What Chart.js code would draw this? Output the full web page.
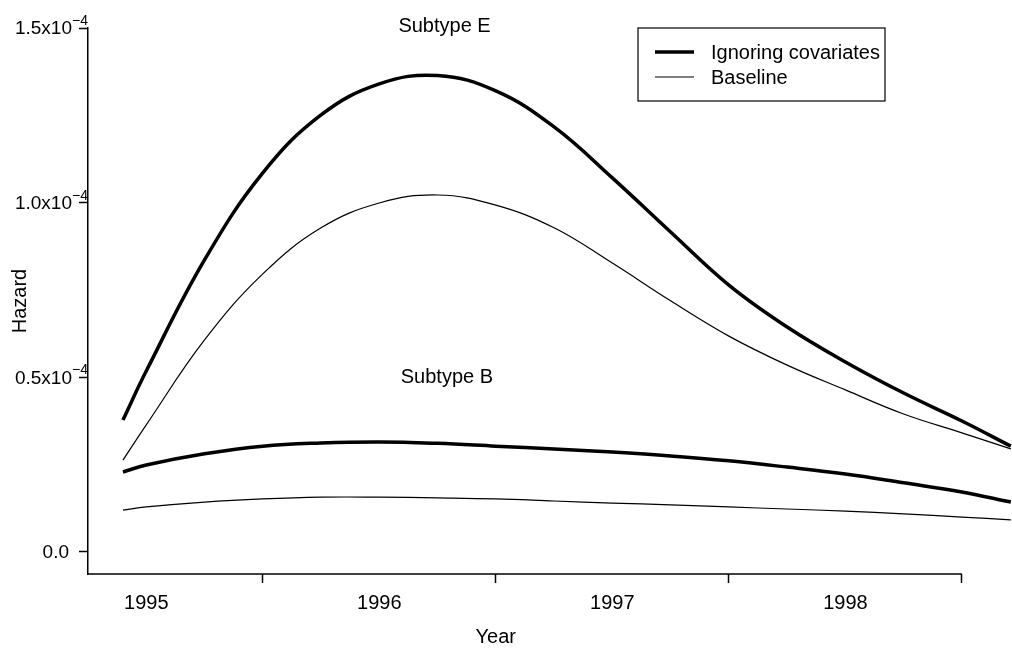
<!DOCTYPE html>
<html>
<head>
<meta charset="utf-8">
<script src="https://cdn.jsdelivr.net/npm/chart.js@4.4.1/dist/chart.umd.min.js"></script>
<style>
  html, body { margin: 0; padding: 0; background: #fff; }
  #wrap { width: 1012px; height: 649px; }
</style>
</head>
<body>
<div id="wrap"><canvas id="chart" width="1012" height="649"></canvas></div>
<script>
// hazard values in units of 1e-4
var years = [1995.40, 1995.5, 1995.75, 1996.0, 1996.25, 1996.5, 1996.75, 1997.0, 1997.25,
             1997.5, 1997.75, 1998.0, 1998.25, 1998.5, 1998.75, 1999.0, 1999.21];
var eIgnoring = [0.378, 0.518, 0.836, 1.085, 1.251, 1.340, 1.364, 1.320, 1.217,
                 1.071, 0.916, 0.764, 0.644, 0.544, 0.455, 0.375, 0.303];
var eBaseline = [0.263, 0.364, 0.607, 0.796, 0.928, 0.999, 1.022, 0.993, 0.928,
                 0.827, 0.719, 0.618, 0.535, 0.464, 0.395, 0.341, 0.295];
var bIgnoring = [0.229, 0.249, 0.281, 0.303, 0.312, 0.315, 0.311, 0.303, 0.295,
                 0.286, 0.275, 0.261, 0.243, 0.223, 0.198, 0.172, 0.143];
var bBaseline = [0.120, 0.129, 0.143, 0.152, 0.157, 0.157, 0.155, 0.152, 0.146,
                 0.140, 0.135, 0.129, 0.123, 0.117, 0.109, 0.100, 0.092];

var yearLabels = ['1995', '1996', '1997', '1998'];
var yTicks = [0, 0.5, 1.0, 1.5];
var yTickText = ['0.0', '0.5x10', '1.0x10', '1.5x10'];
var yTickExp = ['', '\u22124', '\u22124', '\u22124'];
var legendLabels = ['Ignoring covariates', 'Baseline'];
var groupLabels = ['Subtype E', 'Subtype B'];
var groupLabelX = [1996.78, 1996.79];
var groupLabelY = [1.505, 0.50];

var FONT = '"Liberation Sans", Arial, Helvetica, sans-serif';

function series(vals) {
  return years.map(function(x, i) { return { x: x, y: vals[i] }; });
}

function line(label, vals, width) {
  return {
    label: label,
    data: series(vals),
    borderColor: '#000',
    borderWidth: width,
    pointRadius: 0,
    fill: false,
    tension: 0.4
  };
}

var extras = {
  id: 'extras',
  afterDraw: function(chart) {
    var ctx = chart.ctx;
    var xs = chart.scales.x, ys = chart.scales.y;
    var area = chart.chartArea;
    var firstYear = +yearLabels[0];
    var lastYear = +yearLabels[yearLabels.length - 1] + 1;
    ctx.save();

    // x axis line, up to the last tick
    ctx.strokeStyle = '#000';
    ctx.lineWidth = 1.5;
    ctx.beginPath();
    ctx.moveTo(area.left, area.bottom);
    ctx.lineTo(xs.getPixelForValue(lastYear), area.bottom);
    ctx.stroke();

    // x axis title, centred on the year range
    ctx.fillStyle = '#000';
    ctx.textBaseline = 'middle';
    ctx.font = '20px ' + FONT;
    ctx.textAlign = 'center';
    ctx.fillText('Year', xs.getPixelForValue((firstYear + lastYear) / 2), 637);

    // y tick labels with exponent
    for (var i = 0; i < yTicks.length; i++) {
      var py = ys.getPixelForValue(yTicks[i]);
      ctx.font = '19px ' + FONT;
      ctx.textAlign = 'right';
      if (yTickExp[i]) {
        ctx.fillText(yTickText[i], 72, py + 1);
        ctx.font = '14px ' + FONT;
        ctx.textAlign = 'left';
        ctx.fillText(yTickExp[i], 72, py - 7);
      } else {
        ctx.fillText(yTickText[i], 69, py + 1);
      }
    }

    // subtype labels
    ctx.font = '20px ' + FONT;
    ctx.textAlign = 'center';
    for (var j = 0; j < groupLabels.length; j++) {
      ctx.fillText(groupLabels[j], xs.getPixelForValue(groupLabelX[j]), ys.getPixelForValue(groupLabelY[j]));
    }

    // legend
    ctx.lineWidth = 1.2;
    ctx.strokeRect(638, 28, 247, 73);
    var widths = [chart.data.datasets[0].borderWidth, chart.data.datasets[1].borderWidth];
    var rows = [52, 77];
    ctx.textAlign = 'left';
    for (var k = 0; k < legendLabels.length; k++) {
      ctx.lineWidth = widths[k];
      ctx.beginPath();
      ctx.moveTo(655, rows[k]);
      ctx.lineTo(694, rows[k]);
      ctx.stroke();
      ctx.fillText(legendLabels[k], 711, rows[k] + 1);
    }
    ctx.restore();
  }
};

var chart = new Chart(document.getElementById('chart').getContext('2d'), {
  type: 'line',
  data: {
    datasets: [
      line('Subtype E, ignoring covariates', eIgnoring, 3.5),
      line('Subtype E, baseline', eBaseline, 1.2),
      line('Subtype B, ignoring covariates', bIgnoring, 3.5),
      line('Subtype B, baseline', bBaseline, 1.2)
    ]
  },
  options: {
    responsive: false,
    animation: false,
    layout: { padding: { top: 28, right: 0, left: 0, bottom: 0 } },
    plugins: {
      legend: { display: false },
      tooltip: { enabled: false }
    },
    scales: {
      x: {
        type: 'linear',
        min: 1995.25,
        max: 1999.215,
        afterBuildTicks: function(scale) {
          var t = [];
          yearLabels.forEach(function(l) {
            t.push({ value: +l + 0.5 });
            t.push({ value: +l + 1 });
          });
          scale.ticks = t;
        },
        afterFit: function(scale) { scale.height = 75; },
        border: { display: false },
        grid: {
          drawOnChartArea: false,
          drawTicks: true,
          tickLength: 9,
          tickWidth: 1.5,
          tickColor: function(c) {
            return c.tick && Number.isInteger(c.tick.value) ? '#000' : 'rgba(0,0,0,0)';
          }
        },
        ticks: {
          autoSkip: false,
          maxRotation: 0,
          padding: 8,
          color: '#000',
          font: { family: FONT, size: 20 },
          callback: function(v) {
            return Number.isInteger(v) ? '' : String(Math.floor(v));
          }
        },
        title: { display: false }
      },
      y: {
        type: 'linear',
        min: -0.063,
        max: 1.5,
        afterBuildTicks: function(scale) {
          scale.ticks = yTicks.map(function(v) { return { value: v }; });
        },
        afterFit: function(scale) { scale.width = 88; },
        border: { display: true, color: '#000', width: 1.5 },
        grid: {
          drawOnChartArea: false,
          drawTicks: true,
          tickLength: 9,
          tickWidth: 1.5,
          tickColor: '#000'
        },
        ticks: { display: false },
        title: {
          display: true,
          text: 'Hazard',
          color: '#000',
          font: { family: FONT, size: 20 },
          padding: { top: 8, bottom: 0 }
        }
      }
    }
  },
  plugins: [extras]
});
</script>
</body>
</html>
